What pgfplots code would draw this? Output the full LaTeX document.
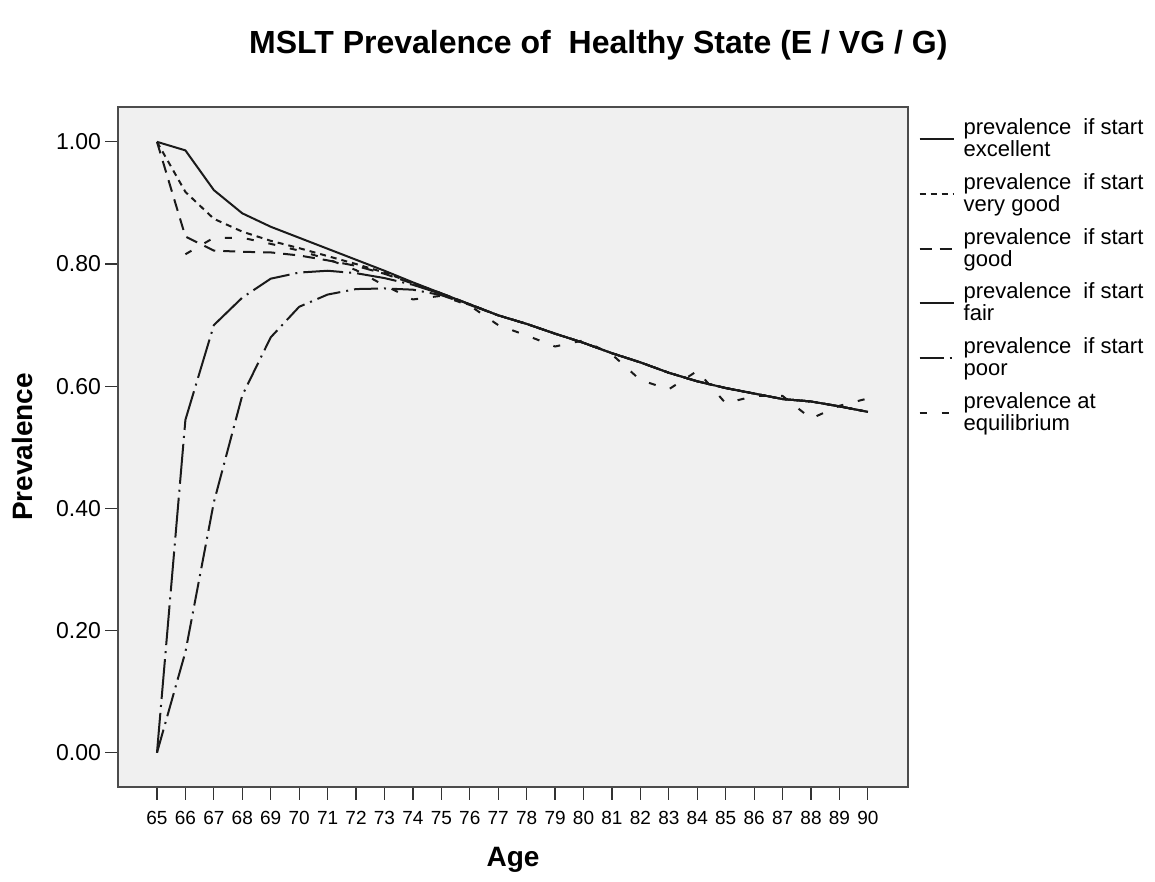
\documentclass[border=0pt]{standalone}
\usepackage{fontspec}
\setmainfont{Liberation Sans}
\usepackage{pgfplots}
\usepackage{pgfplotstable}
\pgfplotsset{compat=1.18}

\definecolor{plotbg}{HTML}{F0F0F0}
\definecolor{ink}{HTML}{1A1A1A}

% prevalence of healthy state by start state
\pgfplotstableread{
age  exc   vg    good  fair  poor
65   1.000 1.000 1.000 0.000 0.000
66   0.986 0.918 0.845 0.545 0.165
67   0.921 0.874 0.822 0.700 0.410
68   0.883 0.853 0.820 0.745 0.585
69   0.861 0.838 0.819 0.776 0.680
70   0.843 0.826 0.814 0.786 0.730
71   0.825 0.813 0.806 0.789 0.750
72   0.807 0.800 0.797 0.785 0.759
73   0.789 0.786 0.784 0.777 0.760
74   0.770 0.769 0.768 0.766 0.758
75   0.752 0.752 0.752 0.751 0.749
76   0.734 0.734 0.734 0.734 0.733
77   0.716 0.716 0.716 0.716 0.716
78   0.702 0.702 0.702 0.702 0.702
79   0.686 0.686 0.686 0.686 0.686
80   0.671 0.671 0.671 0.671 0.671
81   0.654 0.654 0.654 0.654 0.654
82   0.639 0.639 0.639 0.639 0.639
83   0.622 0.622 0.622 0.622 0.622
84   0.608 0.608 0.608 0.608 0.608
85   0.597 0.597 0.597 0.597 0.597
86   0.588 0.588 0.588 0.588 0.588
87   0.579 0.579 0.579 0.579 0.579
88   0.575 0.575 0.575 0.575 0.575
89   0.567 0.567 0.567 0.567 0.567
90   0.558 0.558 0.558 0.558 0.558
}\startdata

\pgfplotstableread{
age  eq
66   0.816
67   0.843
68   0.843
69   0.833
70   0.822
71   0.808
72   0.790
73   0.765
74   0.742
75   0.748
76   0.732
77   0.700
78   0.683
79   0.665
80   0.675
81   0.652
82   0.610
83   0.595
84   0.625
85   0.572
86   0.584
87   0.584
88   0.547
89   0.568
90   0.580
}\eqdata

\begin{document}
\begin{tikzpicture}
\begin{axis}[
  scale only axis,
  width=395pt, height=340pt,
  xmin=63.63, xmax=91.41,
  ymin=-0.056, ymax=1.057,
  clip=false,
  axis background/.style={fill=plotbg},
  axis line style={black!70, line width=0.6pt},
  xtick={65,66,...,90},
  ytick={0,0.2,0.4,0.6,0.8,1.0},
  tick pos=left,
  tick align=outside,
  major tick length=6.5pt,
  tick style={black!80, line width=0.6pt},
  /pgf/number format/assume math mode=true,
  yticklabel style={/pgf/number format/.cd, fixed, fixed zerofill, precision=2, /tikz/.cd,
    font=\fontsize{11.5}{13}\selectfont, xshift=1.5pt},
  xticklabel style={font=\fontsize{9.5}{11}\selectfont, yshift=-2pt},
  every axis title shift=0pt,
  title={MSLT Prevalence of\ \ Healthy State (E / VG / G)},
  title style={font=\bfseries\fontsize{16}{19}\selectfont,
    at={(axis description cs:0.608,1.091)}, anchor=center},
  xlabel={Age},
  xlabel style={font=\bfseries\fontsize{14}{17}\selectfont,
    at={(axis description cs:0.5,-0.107)}, anchor=center},
  ylabel={Prevalence},
  ylabel style={font=\bfseries\fontsize{14}{17}\selectfont,
    at={(axis description cs:-0.1215,0.5)}, anchor=center, rotate=0},
  every axis plot/.append style={ink, line width=1pt},
  legend style={at={(axis description cs:1.013,0.99)}, anchor=north west,
    draw=none, fill=none, inner sep=0pt,
    font=\fontsize{11}{11}\selectfont,
    cells={anchor=west, align=left},
    nodes={inner xsep=4.5pt},
    row sep=3pt},
  legend image code/.code={\draw[#1] (0pt,0pt) -- (17pt,0pt);},
]
\addplot[solid] table[x=age, y=exc] {\startdata};
\addlegendentry{prevalence\ \ if start\\excellent}
\addplot[dash pattern=on 3pt off 2.5pt] table[x=age, y=vg] {\startdata};
\addlegendentry{prevalence\ \ if start\\very good}
\addplot[dash pattern=on 6pt off 4pt] table[x=age, y=good] {\startdata};
\addlegendentry{prevalence\ \ if start\\good}
\addplot[dash pattern=on 20pt off 3pt on 1pt off 3pt] table[x=age, y=fair] {\startdata};
\addlegendentry{prevalence\ \ if start\\fair}
\addplot[dash pattern=on 12pt off 3pt on 1pt off 3pt] table[x=age, y=poor] {\startdata};
\addlegendentry{prevalence\ \ if start\\poor}
\addplot[dash pattern=on 3.5pt off 7.5pt] table[x=age, y=eq] {\eqdata};
\addlegendentry{prevalence at\\equilibrium}
% page extent
\path (rel axis cs:-0.1494,-0.1397) rectangle (rel axis cs:1.3127,1.1574);
\end{axis}
\end{tikzpicture}
\end{document}
